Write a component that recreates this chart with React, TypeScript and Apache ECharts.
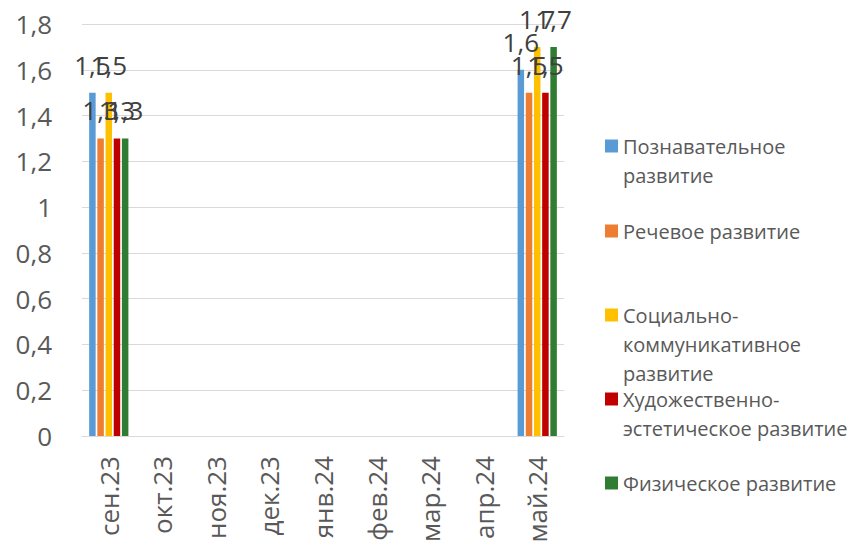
import React, { useEffect, useRef } from "react";
import * as echarts from "echarts";

const categories = ["сен.23", "окт.23", "ноя.23", "дек.23", "янв.24", "фев.24", "мар.24", "апр.24", "май.24"];
const seriesNames = [
  "Познавательное развитие",
  "Речевое развитие",
  "Социально-коммуникативное развитие",
  "Художественно-эстетическое развитие",
  "Физическое развитие",
];
const legendLines = [
  ["Познавательное", "развитие"],
  ["Речевое развитие"],
  ["Социально-", "коммуникативное", "развитие"],
  ["Художественно-", "эстетическое развитие"],
  ["Физическое развитие"],
];
const cognitive = [1.5, null, null, null, null, null, null, null, 1.6];
const speech = [1.3, null, null, null, null, null, null, null, 1.5];
const social = [1.5, null, null, null, null, null, null, null, 1.7];
const artistic = [1.3, null, null, null, null, null, null, null, 1.5];
const physical = [1.3, null, null, null, null, null, null, null, 1.7];
const seriesValues = [cognitive, speech, social, artistic, physical];
const colors = ["#5B9BD5", "#ED7D31", "#FFC000", "#C00000", "#2E7D32"];
const yMin = 0;
const yMax = 1.8;
const yStep = 0.2;

const FONT = "'Open Sans', 'Noto Sans', sans-serif";
const legendY = [146, 231, 315, 399, 483];
const LH = 29;

const comma = (v: number) => String(Math.round(v * 10) / 10).replace(".", ",");

export default function App() {
  const ref = useRef<HTMLDivElement>(null);
  useEffect(() => {
    if (!ref.current) return;
    const chart = echarts.init(ref.current, null, { renderer: "svg" });
    const legends = seriesNames.map((name, i) => {
      const lines = legendLines[i];
      const n = lines.length;
      const padded = Array(n - 1).fill("").concat(lines).join("\n");
      const h = (2 * n - 1) * LH;
      return {
        data: [name],
        orient: "vertical",
        left: 605,
        top: legendY[i] - h / 2,
        padding: 0,
        itemWidth: 13,
        itemHeight: 13,
        itemGap: 0,
        icon: "rect",
        selectedMode: false,
        formatter: () => padded,
        textStyle: { fontSize: 20, color: "#595959", fontFamily: FONT, lineHeight: LH },
      };
    });
    chart.setOption({
      animation: false,
      color: colors,
      grid: { left: 82, right: 294, top: 24, bottom: 116, containLabel: false },
      legend: legends,
      xAxis: {
        type: "category",
        data: categories,
        axisLine: { lineStyle: { color: "#D9D9D9", width: 1 } },
        axisTick: { show: false },
        axisLabel: {
          rotate: 90,
          fontSize: 26,
          color: "#595959",
          fontFamily: FONT,
          margin: 20,
          interval: 0,
        },
      },
      yAxis: {
        type: "value",
        min: yMin,
        max: yMax,
        interval: yStep,
        axisLine: { show: false },
        axisTick: { show: false },
        splitLine: { lineStyle: { color: "#D9D9D9", width: 1 } },
        axisLabel: {
          fontSize: 26,
          color: "#595959",
          fontFamily: FONT,
          margin: 30,
          formatter: (v: number) => comma(v),
        },
      },
      series: seriesNames.map((name, i) => ({
        name,
        type: "bar",
        data: seriesValues[i],
        barWidth: 6.5,
        barGap: "26%",
        label: {
          show: true,
          position: "top",
          distance: 15,
          fontSize: 26,
          color: "#404040",
          fontFamily: FONT,
          formatter: (p: any) => comma(p.value),
        },
      })),
    });
    return () => chart.dispose();
  }, []);
  return (
    <div
      ref={ref}
      style={{ position: "fixed", left: 0, top: 0, width: 858, height: 552, background: "#fff" }}
    />
  );
}
